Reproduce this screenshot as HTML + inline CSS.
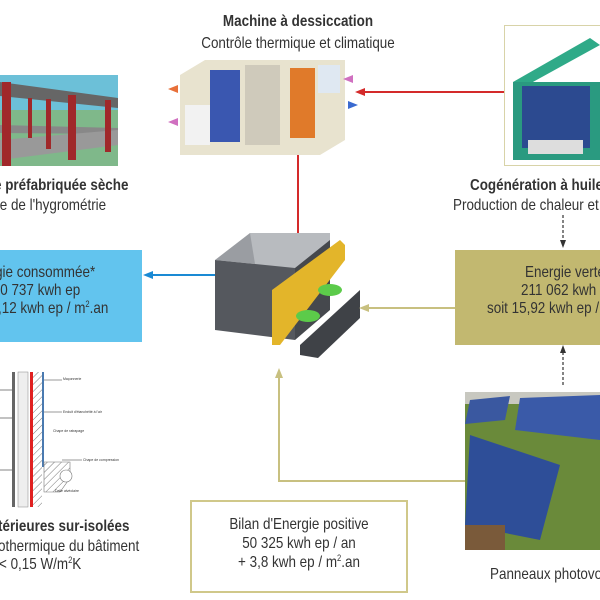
<!DOCTYPE html>
<html><head><meta charset="utf-8"><style>
html,body{margin:0;padding:0;background:#fff;}
body{width:600px;height:600px;position:relative;overflow:hidden;font-family:"Liberation Sans",sans-serif;color:#333;}
.t{position:absolute;white-space:nowrap;font-size:16px;line-height:18px;transform:scaleX(0.84);transform-origin:left center;}
.b{font-weight:bold;}
.r{text-align:right;transform-origin:right center;}
.c{text-align:center;transform-origin:center center;}
sup{font-size:9px;line-height:0;vertical-align:6px;}
</style></head><body>
<svg width="600" height="600" style="position:absolute;left:0;top:0">
<defs>
<pattern id="h" width="5" height="5" patternUnits="userSpaceOnUse" patternTransform="rotate(45)"><line x1="0" y1="0" x2="0" y2="5" stroke="#777" stroke-width="1"/></pattern>
</defs>
<rect x="0" y="75" width="118" height="91" fill="#6cc0d8"/>
<rect x="0" y="110" width="118" height="56" fill="#7fb88a"/>
<polygon points="0,82 118,98 118,108 0,96" fill="#666"/>
<polygon points="0,125 118,128 118,134 0,133" fill="#888"/>
<polygon points="0,140 118,130 118,145 0,160" fill="#999"/>
<rect x="2" y="82" width="9" height="84" fill="#a0282a"/>
<rect x="68" y="95" width="8" height="65" fill="#a0282a"/>
<rect x="46" y="99" width="5" height="50" fill="#a0282a"/>
<rect x="105" y="100" width="6" height="52" fill="#a0282a"/>
<rect x="28" y="98" width="4" height="40" fill="#a0282a"/>
<polygon points="180,75 205,60 345,60 345,140 320,155 180,155" fill="#e8e3cf"/>
<rect x="210" y="70" width="30" height="72" fill="#3a57b0"/>
<rect x="245" y="65" width="35" height="80" fill="#cfcabb"/>
<rect x="290" y="68" width="25" height="70" fill="#e07a2a"/>
<rect x="318" y="65" width="22" height="28" fill="#dfe8f2"/>
<rect x="185" y="105" width="25" height="40" fill="#f2f2f2"/>
<polygon points="168,89 178,85 178,93" fill="#e8703a"/><polygon points="168,122 178,118 178,126" fill="#d070c0"/>
<polygon points="343,79 353,75 353,83" fill="#d070c0"/><polygon points="358,105 348,101 348,109" fill="#3a6ad0"/>
<rect x="504.5" y="25.5" width="100" height="140" fill="#fff" stroke="#d8d3a8"/>
<polygon points="513,82 590,38 600,45 522,88" fill="#2faa88"/>
<rect x="513" y="82" width="87" height="78" fill="#2a9a80"/>
<rect x="522" y="86" width="68" height="62" fill="#2c4a90"/>
<rect x="528" y="140" width="55" height="14" fill="#dddddd"/>
<line x1="504" y1="92" x2="362" y2="92" stroke="#d42a2a" stroke-width="2"/>
<polygon points="355,92 365,88 365,96" fill="#d42a2a"/>
<line x1="298" y1="155" x2="298" y2="238" stroke="#d42a2a" stroke-width="2"/>
<polygon points="298,246 294,236 302,236" fill="#d42a2a"/>
<polygon points="215,260 250,233 330,233 330,240 295,268" fill="#9a9da2"/>
<polygon points="250,233 330,233 330,244 296,270 256,270" fill="#b8bbbf"/>
<polygon points="215,260 295,268 295,340 215,330" fill="#55585e"/>
<polygon points="295,268 330,240 330,310 295,340" fill="#45484d"/>
<polygon points="272,290 340,240 345,245 345,260 280,345 272,345" fill="#e3b52a"/>
<polygon points="300,345 360,290 360,318 318,358 300,355" fill="#3f4247"/>
<ellipse cx="330" cy="290" rx="12" ry="6" fill="#5ccb4a"/>
<ellipse cx="308" cy="316" rx="12" ry="6" fill="#5ccb4a"/>
<rect x="0" y="250" width="142" height="92" fill="#62c4ee"/>
<line x1="215" y1="275" x2="150" y2="275" stroke="#1a8ad4" stroke-width="2"/>
<polygon points="143,275 153,271 153,279" fill="#1a8ad4"/>
<rect x="455" y="250" width="145" height="95" fill="#c2b870"/>
<line x1="455" y1="308" x2="366" y2="308" stroke="#c8c080" stroke-width="2"/>
<polygon points="359,308 369,304 369,312" fill="#c8c080"/>
<line x1="563" y1="215" x2="563" y2="240" stroke="#333" stroke-width="1.2" stroke-dasharray="3,2"/>
<polygon points="563,248 560,240 566,240" fill="#333"/>
<line x1="563" y1="385" x2="563" y2="353" stroke="#333" stroke-width="1.2" stroke-dasharray="3,2"/>
<polygon points="563,345 560,353 566,353" fill="#333"/>
<rect x="465" y="392" width="135" height="158" fill="#6a8a3a"/>
<rect x="465" y="392" width="135" height="12" fill="#c8c8c0"/>
<polygon points="470,400 510,396 505,420 465,424" fill="#3a58a0"/>
<polygon points="520,398 600,395 600,440 515,430" fill="#3a5aa8"/>
<polygon points="470,435 560,465 540,540 465,525" fill="#2e4e98"/>
<rect x="465" y="525" width="40" height="25" fill="#7a5a3a"/>
<polyline points="465,481 279,481 279,376" fill="none" stroke="#c8c080" stroke-width="2"/>
<polygon points="279,368 275,378 283,378" fill="#c8c080"/>
<rect x="191" y="501" width="216" height="91" fill="#fff" stroke="#d0c88a" stroke-width="2"/>
<rect x="12" y="372" width="3" height="135" fill="#666"/>
<rect x="18" y="372" width="10" height="135" fill="#eee" stroke="#888" stroke-width=".5"/>
<rect x="30" y="372" width="12" height="135" fill="url(#h)"/>
<rect x="30" y="372" width="3" height="135" fill="#e02020"/>
<rect x="42" y="372" width="2" height="95" fill="#4a7ab0"/>
<polygon points="44,462 70,462 70,478 60,492 44,492" fill="url(#h)" stroke="#777" stroke-width=".6"/>
<circle cx="66" cy="476" r="6" fill="#fff" stroke="#777" stroke-width=".6"/>
<g stroke="#333" stroke-width=".6"><line x1="0" y1="390" x2="12" y2="390"/><line x1="0" y1="418" x2="12" y2="418"/><line x1="0" y1="470" x2="12" y2="470"/>
<line x1="44" y1="380" x2="62" y2="380"/><line x1="44" y1="412" x2="62" y2="412"/><line x1="62" y1="460" x2="82" y2="460"/></g>
<g font-size="3.5" fill="#333" font-family="Liberation Sans, sans-serif"><text x="63" y="380">Maçonnerie</text><text x="63" y="413">Enduit d'étanchéité à l'air</text><text x="53" y="432">Chape de ratrapage</text><text x="83" y="461">Chape de compression</text><text x="55" y="492">Dalle alvéolaire</text></g>
</svg>
<div class="t c b" style="left:150px;top:13px;width:296px">Machine à dessiccation</div>
<div class="t c" style="left:150px;top:35px;width:296px">Contrôle thermique et climatique</div>
<div class="t b" style="left:-6px;top:177px">e préfabriquée sèche</div>
<div class="t" style="left:-4px;top:197px">te de l'hygrométrie</div>
<div class="t r" style="right:505px;top:264px">gie consommée*</div>
<div class="t r" style="right:520px;top:282px">0 737 kwh ep</div>
<div class="t r" style="right:492px;top:300px">,12 kwh ep / m<sup>2</sup>.an</div>
<div class="t b" style="left:470px;top:177px">Cogénération à huile</div>
<div class="t" style="left:453px;top:197px">Production de chaleur et</div>
<div class="t" style="left:525px;top:264px">Energie verte</div>
<div class="t" style="left:521px;top:282px">211 062 kwh e</div>
<div class="t" style="left:487px;top:300px">soit 15,92 kwh ep /</div>
<div class="t" style="left:490px;top:566px">Panneaux photovol</div>
<div class="t c" style="left:191px;top:516px;width:216px">Bilan d'Energie positive</div>
<div class="t c" style="left:191px;top:535px;width:216px">50 325 kwh ep / an</div>
<div class="t c" style="left:191px;top:554px;width:216px">+ 3,8 kwh ep / m<sup>2</sup>.an</div>
<div class="t b" style="left:-2px;top:518px">térieures sur-isolées</div>
<div class="t" style="left:-2px;top:538px">othermique du bâtiment</div>
<div class="t" style="left:-1px;top:556px">&lt; 0,15 W/m<sup>2</sup>K</div>
</body></html>
